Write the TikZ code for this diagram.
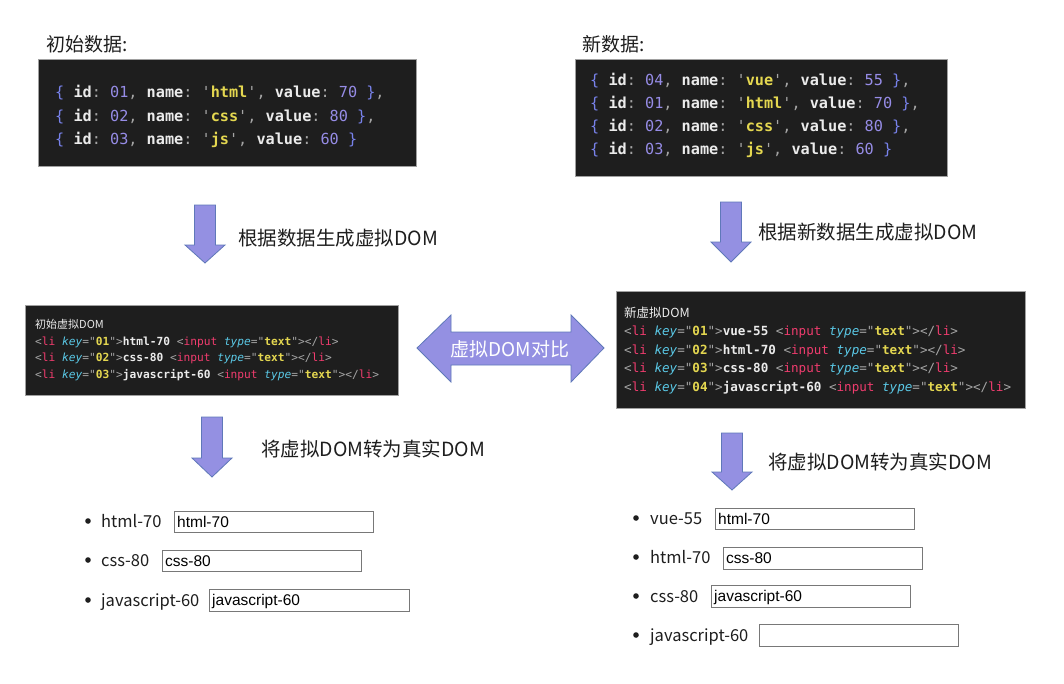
\documentclass[tikz,border=0pt]{standalone}
\usepackage{fontspec}
\setmainfont{Noto Sans CJK SC}
\setmonofont{DejaVu Sans Mono}
\newfontfamily\arialfont{Liberation Sans}

\definecolor{codebg}{RGB}{30,30,30}
\definecolor{codeframe}{RGB}{160,160,160}
\definecolor{cwhite}{RGB}{235,235,235}
\definecolor{cbrace}{RGB}{120,130,235}
\definecolor{cpunc}{RGB}{165,165,165}
\definecolor{cnum}{RGB}{150,140,230}
\definecolor{cstr}{RGB}{228,215,80}
\definecolor{ctag}{RGB}{240,60,110}
\definecolor{cattr}{RGB}{90,200,230}
\definecolor{arrowfill}{RGB}{148,144,226}
\definecolor{arrowline}{RGB}{95,120,185}
\definecolor{inframe}{RGB}{120,120,120}
\definecolor{textdark}{RGB}{30,30,30}

\newcommand\pbr[1]{\textcolor{cbrace}{#1}}
\newcommand\ppu[1]{\textcolor{cpunc}{#1}}
\newcommand\pnu[1]{\textcolor{cnum}{#1}}
\newcommand\pst[1]{\textcolor{cstr}{\bfseries #1}}
\newcommand\pkw[1]{{\bfseries #1}}
\newcommand\ptg[1]{\textcolor{ctag}{#1}}
\newcommand\pat[1]{\textcolor{cattr}{\itshape #1}}
\newcommand\dataline[4]{\pbr{\{} \pkw{id}\ppu{:} \pnu{#1}\ppu{,} \pkw{name}\ppu{:} \ppu{'}\pst{#2}\ppu{'}\ppu{,} \pkw{value}\ppu{:} \pnu{#3} \pbr{\}}\ppu{#4}}
\newcommand\liline[2]{\ppu{<}\ptg{li} \pat{key}\ppu{="}\pst{#1}\ppu{">}\pkw{#2} \ppu{<}\ptg{input} \pat{type}\ppu{="}\pst{text}\ppu{">}\ppu{</}\ptg{li}\ppu{>}}

\tikzset{
  codebox/.style={fill=codebg, draw=codeframe, line width=0.8pt},
  blockarrow/.style={fill=arrowfill, draw=arrowline, line width=0.8pt, line join=miter},
  heading/.style={anchor=west, inner sep=0pt, text=textdark, font=\fontsize{19}{22}\selectfont},
  steplabel/.style={anchor=west, inner sep=0pt, text=textdark, font=\fontsize{19.5}{22}\selectfont},
  bigcode/.style={anchor=base west, inner sep=0pt, text=cwhite, font=\ttfamily\fontsize{15.2}{18}\selectfont},
  smallcode/.style={anchor=base west, inner sep=0pt, text=cwhite, font=\ttfamily\fontsize{11.2}{13}\selectfont},
  midcode/.style={anchor=base west, inner sep=0pt, text=cwhite, font=\ttfamily\fontsize{12.6}{15}\selectfont},
  item/.style={anchor=base west, inner sep=0pt, text=textdark, font=\fontsize{16.5}{19}\selectfont},
  inbox/.style={draw=inframe, line width=0.9pt},
  intext/.style={anchor=base west, inner sep=0pt, text=black, font=\arialfont\fontsize{15.5}{18}\selectfont}
}

\begin{document}
\begin{tikzpicture}[x=1pt, y=-1pt]
\fill[white] (0,0) rectangle (1064,683);
\useasboundingbox (0,0) rectangle (1064,683);

% data
\node[heading] (titleold) at (46,44) {初始数据:};
\node[heading] (titlenew) at (582,44) {新数据:};
\draw[codebox] (38,59) rectangle (416,166);
\node[bigcode] (old1) at (55,97) {\dataline{01}{html}{70}{,}};
\node[bigcode] (old2) at (55,121) {\dataline{02}{css}{80}{,}};
\node[bigcode] (old3) at (55,144) {\dataline{03}{js}{60}{}};
\draw[codebox] (575,59) rectangle (947,176);
\node[bigcode] (new1) at (590,85) {\dataline{04}{vue}{55}{,}};
\node[bigcode] (new2) at (590,108) {\dataline{01}{html}{70}{,}};
\node[bigcode] (new3) at (590,131) {\dataline{02}{css}{80}{,}};
\node[bigcode] (new4) at (590,154) {\dataline{03}{js}{60}{}};

% down arrows
\foreach \ax/\ay/\ab/\at in {205/205/245/263, 731/202/242/262, 212/417/458/477, 732/433/472/490}
  \draw[blockarrow] ({\ax-10.5},\ay) -- ({\ax+10.5},\ay) -- ({\ax+10.5},\ab) -- ({\ax+20},\ab)
    -- (\ax,\at) -- ({\ax-20},\ab) -- ({\ax-10.5},\ab) -- cycle;
\node[steplabel] (gen1) at (238,238) {根据数据生成虚拟DOM};
\node[steplabel] (gen2) at (758,232) {根据新数据生成虚拟DOM};
\node[steplabel] (real1) at (261,449) {将虚拟DOM转为真实DOM};
\node[steplabel] (real2) at (768,462) {将虚拟DOM转为真实DOM};

% virtual DOM
\draw[codebox] (25,305) rectangle (398,395);
\node[smallcode, font=\fontsize{11}{13}\selectfont] (vold) at (35,328) {初始虚拟DOM};
\node[smallcode] (vold1) at (35,345) {\liline{01}{html-70}};
\node[smallcode] (vold2) at (35,361) {\liline{02}{css-80}};
\node[smallcode] (vold3) at (35,378) {\liline{03}{javascript-60}};
\draw[codebox] (616,291) rectangle (1025,408);
\node[midcode, font=\fontsize{12.5}{15}\selectfont] (vnew) at (624,317) {新虚拟DOM};
\node[midcode] (vnew1) at (624,335.5) {\liline{01}{vue-55}};
\node[midcode] (vnew2) at (624,354.5) {\liline{02}{html-70}};
\node[midcode] (vnew3) at (624,372.5) {\liline{03}{css-80}};
\node[midcode] (vnew4) at (624,391.5) {\liline{04}{javascript-60}};

% diff arrow
\draw[blockarrow] (417,348) -- (451,315) -- (451,332) -- (571,332) -- (571,315) -- (604,348)
  -- (571,382) -- (571,365) -- (451,365) -- (451,382) -- cycle;
\node[anchor=center, inner sep=0pt, text=white, font=\fontsize{19}{22}\selectfont] (diff) at (510,349) {虚拟DOM对比};

% real DOM, old
\foreach \by in {521,560,600} \fill[textdark] (88,\by) circle (2.8);
\node[item] (r1) at (101,527) {html-70};
\draw[inbox] (174,511) rectangle (373,532);
\node[intext] (r1in) at (177,527) {html-70};
\node[item] (r2) at (101,566) {css-80};
\draw[inbox] (162,550) rectangle (361,571);
\node[intext] (r2in) at (165,566) {css-80};
\node[item] (r3) at (101,606) {javascript-60};
\draw[inbox] (209,589) rectangle (409,611);
\node[intext] (r3in) at (212,605.5) {javascript-60};

% real DOM, new
\foreach \by in {518,557,596,635} \fill[textdark] (636,\by) circle (2.8);
\node[item] (s1) at (650,524) {vue-55};
\draw[inbox] (715,508) rectangle (914,529);
\node[intext] (s1in) at (718,524) {html-70};
\node[item] (s2) at (650,563) {html-70};
\draw[inbox] (723,547) rectangle (922,569);
\node[intext] (s2in) at (726,563.5) {css-80};
\node[item] (s3) at (650,602) {css-80};
\draw[inbox] (711,585) rectangle (910,607);
\node[intext] (s3in) at (714,601.5) {javascript-60};
\node[item] (s4) at (650,641) {javascript-60};
\draw[inbox] (759,624) rectangle (958,646);
\end{tikzpicture}
\end{document}
